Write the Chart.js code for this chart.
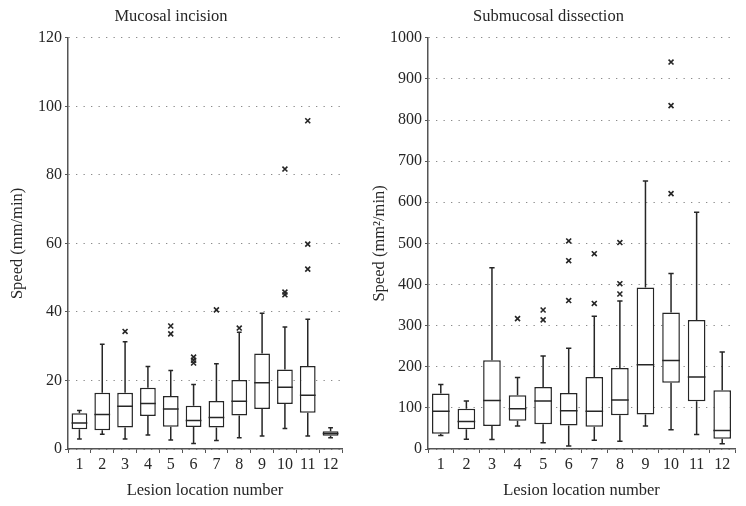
<!DOCTYPE html>
<html>
<head>
<meta charset="utf-8">
<script src="https://cdn.jsdelivr.net/npm/chart.js@4.4.1/dist/chart.umd.min.js"></script>
<style>
    html, body { margin: 0; padding: 0; background: #fff; }
    #wrap { position: relative; width: 746px; height: 506px; }
    #left { position: absolute; left: 0; top: 0; }
    #right { position: absolute; left: 362px; top: 0; }
</style>
</head>
<body>
<div id="wrap">
    <canvas id="left" width="362" height="506"></canvas>
    <canvas id="right" width="384" height="506"></canvas>
</div>
<script>
// lesion location numbers
const categories = ['1','2','3','4','5','6','7','8','9','10','11','12'];

// Mucosal incision speed (mm/min)
const mucosalMin    = [2.9, 4.3, 2.9, 4.1, 2.6, 1.6, 2.5, 3.3, 3.8, 6.0, 3.8, 3.3];
const mucosalQ1     = [5.8, 5.5, 6.3, 9.6, 6.5, 6.4, 6.3, 9.8, 11.7, 13.1, 10.6, 3.9];
const mucosalMedian = [7.6, 10.1, 12.5, 13.3, 11.7, 8.3, 9.2, 13.9, 19.3, 18.0, 15.7, 4.5];
const mucosalQ3     = [10.4, 16.4, 16.4, 17.9, 15.5, 12.6, 14.0, 20.1, 27.9, 23.2, 24.2, 5.2];
const mucosalMax    = [11.2, 30.6, 31.3, 24.1, 22.9, 18.8, 24.9, 34.1, 39.6, 35.6, 37.9, 6.2];
const mucosalOutliers = [[], [], [34.3], [], [33.6, 35.9], [25.1, 25.9, 26.8], [40.6], [35.3], [], [45.0, 45.8, 81.7], [52.5, 59.8, 95.8], []];
const mucosalTicks = { min: 0, max: 120, step: 20 };

// Submucosal dissection speed (mm2/min)
const submucosalMin    = [33, 24, 23, 56, 15, 7, 21, 19, 56, 47, 35, 13];
const submucosalQ1     = [37, 48, 56, 69, 60, 57, 54, 82, 84, 161, 116, 25];
const submucosalMedian = [92, 67, 118, 98, 117, 93, 92, 119, 205, 215, 175, 45];
const submucosalQ3     = [135, 98, 216, 131, 151, 136, 175, 197, 393, 332, 314, 143];
const submucosalMax    = [157, 117, 441, 174, 226, 245, 323, 360, 652, 427, 576, 236];
const submucosalOutliers = [[], [], [], [317], [314, 338], [361, 458, 506], [354, 475], [377, 402, 502], [], [621, 835, 941], [], []];
const submucosalTicks = { min: 0, max: 1000, step: 100 };

const ink = '#262626';
const axisColor = '#555';
const fontFamily = '"Liberation Serif", "DejaVu Serif", serif';

// whiskers, caps and median line drawn on top of the floating bars
const boxWhiskers = {
    id: 'boxWhiskers',
    afterDatasetsDraw(chart, args, opts) {
        const ctx = chart.ctx;
        const y = chart.scales.y;
        const meta = chart.getDatasetMeta(0);
        ctx.save();
        ctx.strokeStyle = ink;
        ctx.lineWidth = 1.5;
        meta.data.forEach((bar, i) => {
            const cx = bar.x;
            const half = bar.width / 2;
            const cap = half * 0.3;
            const yMin = y.getPixelForValue(opts.min[i]);
            const yQ1 = y.getPixelForValue(opts.q1[i]);
            const yMed = y.getPixelForValue(opts.median[i]);
            const yQ3 = y.getPixelForValue(opts.q3[i]);
            const yMax = y.getPixelForValue(opts.max[i]);
            ctx.beginPath();
            ctx.moveTo(cx, yQ3); ctx.lineTo(cx, yMax);
            ctx.moveTo(cx - cap, yMax); ctx.lineTo(cx + cap, yMax);
            ctx.moveTo(cx, yQ1); ctx.lineTo(cx, yMin);
            ctx.moveTo(cx - cap, yMin); ctx.lineTo(cx + cap, yMin);
            ctx.moveTo(cx - half, yMed); ctx.lineTo(cx + half, yMed);
            ctx.stroke();
        });
        ctx.restore();
    }
};

function makeBoxChart(canvas, title, yTitle, stats, ticks, yWidth, padRight){
    const boxes = categories.map((c, i) => [stats.q1[i], stats.q3[i]]);
    const points = [];
    stats.outliers.forEach((list, i) => {
        list.forEach(v => points.push({ x: categories[i], y: v }));
    });

    return new Chart(canvas.getContext('2d'), {
        type: 'bar',
        data: {
            labels: categories,
            datasets: [{
                data: boxes,
                backgroundColor: '#fff',
                borderColor: ink,
                borderWidth: 1.5,
                borderSkipped: false,
                barPercentage: 0.69,
                categoryPercentage: 1
            }, {
                type: 'line',
                data: points,
                showLine: false,
                pointStyle: 'crossRot',
                pointRadius: 3.5,
                borderColor: ink,
                borderWidth: 1.6,
                backgroundColor: ink
            }]
        },
        options: {
            responsive: false,
            animation: false,
            layout: { padding: { left: 0, right: padRight, top: 0, bottom: 0 } },
            plugins: {
                legend: { display: false },
                tooltip: { enabled: false },
                title: {
                    display: true,
                    text: title,
                    color: ink,
                    font: { family: fontFamily, size: 16.5, weight: 'normal', lineHeight: 1.2 },
                    padding: { top: 7, bottom: 11 }
                },
                boxWhiskers: stats
            },
            scales: {
                x: {
                    offset: true,
                    grid: {
                        offset: true,
                        drawOnChartArea: false,
                        tickLength: 4,
                        color: axisColor
                    },
                    border: { color: axisColor, width: 1.5 },
                    ticks: {
                        color: ink,
                        padding: 2,
                        maxRotation: 0,
                        font: { family: fontFamily, size: 16 }
                    },
                    title: {
                        display: true,
                        text: 'Lesion location number',
                        color: ink,
                        font: { family: fontFamily, size: 16.5, lineHeight: 1.2 },
                        padding: { top: 0, bottom: 5 }
                    },
                    afterFit: scale => { scale.height = 57; }
                },
                y: {
                    min: ticks.min,
                    max: ticks.max,
                    grid: {
                        color: '#8a8a8a',
                        lineWidth: 1,
                        tickLength: 3,
                        tickColor: axisColor,
                        tickBorderDash: []
                    },
                    border: { color: axisColor, width: 1.5, dash: [1.3, 6.2] },
                    ticks: {
                        stepSize: ticks.step,
                        color: ink,
                        padding: 3,
                        font: { family: fontFamily, size: 16 },
                        callback: value => String(value)
                    },
                    title: {
                        display: true,
                        text: yTitle,
                        color: ink,
                        font: { family: fontFamily, size: 16.5, lineHeight: 1.2 },
                        padding: { top: 8, bottom: 0 }
                    },
                    afterFit: scale => { scale.width = yWidth; }
                }
            }
        },
        plugins: [boxWhiskers]
    });
}

document.addEventListener('DOMContentLoaded', function(){
    makeBoxChart(document.getElementById('left'), 'Mucosal incision', 'Speed (mm/min)', {
        min: mucosalMin, q1: mucosalQ1, median: mucosalMedian, q3: mucosalQ3, max: mucosalMax, outliers: mucosalOutliers
    }, mucosalTicks, 68, 20);

    makeBoxChart(document.getElementById('right'), 'Submucosal dissection', 'Speed (mm\u00b2/min)', {
        min: submucosalMin, q1: submucosalQ1, median: submucosalMedian, q3: submucosalQ3, max: submucosalMax, outliers: submucosalOutliers
    }, submucosalTicks, 66, 11);
});
</script>
</body>
</html>
